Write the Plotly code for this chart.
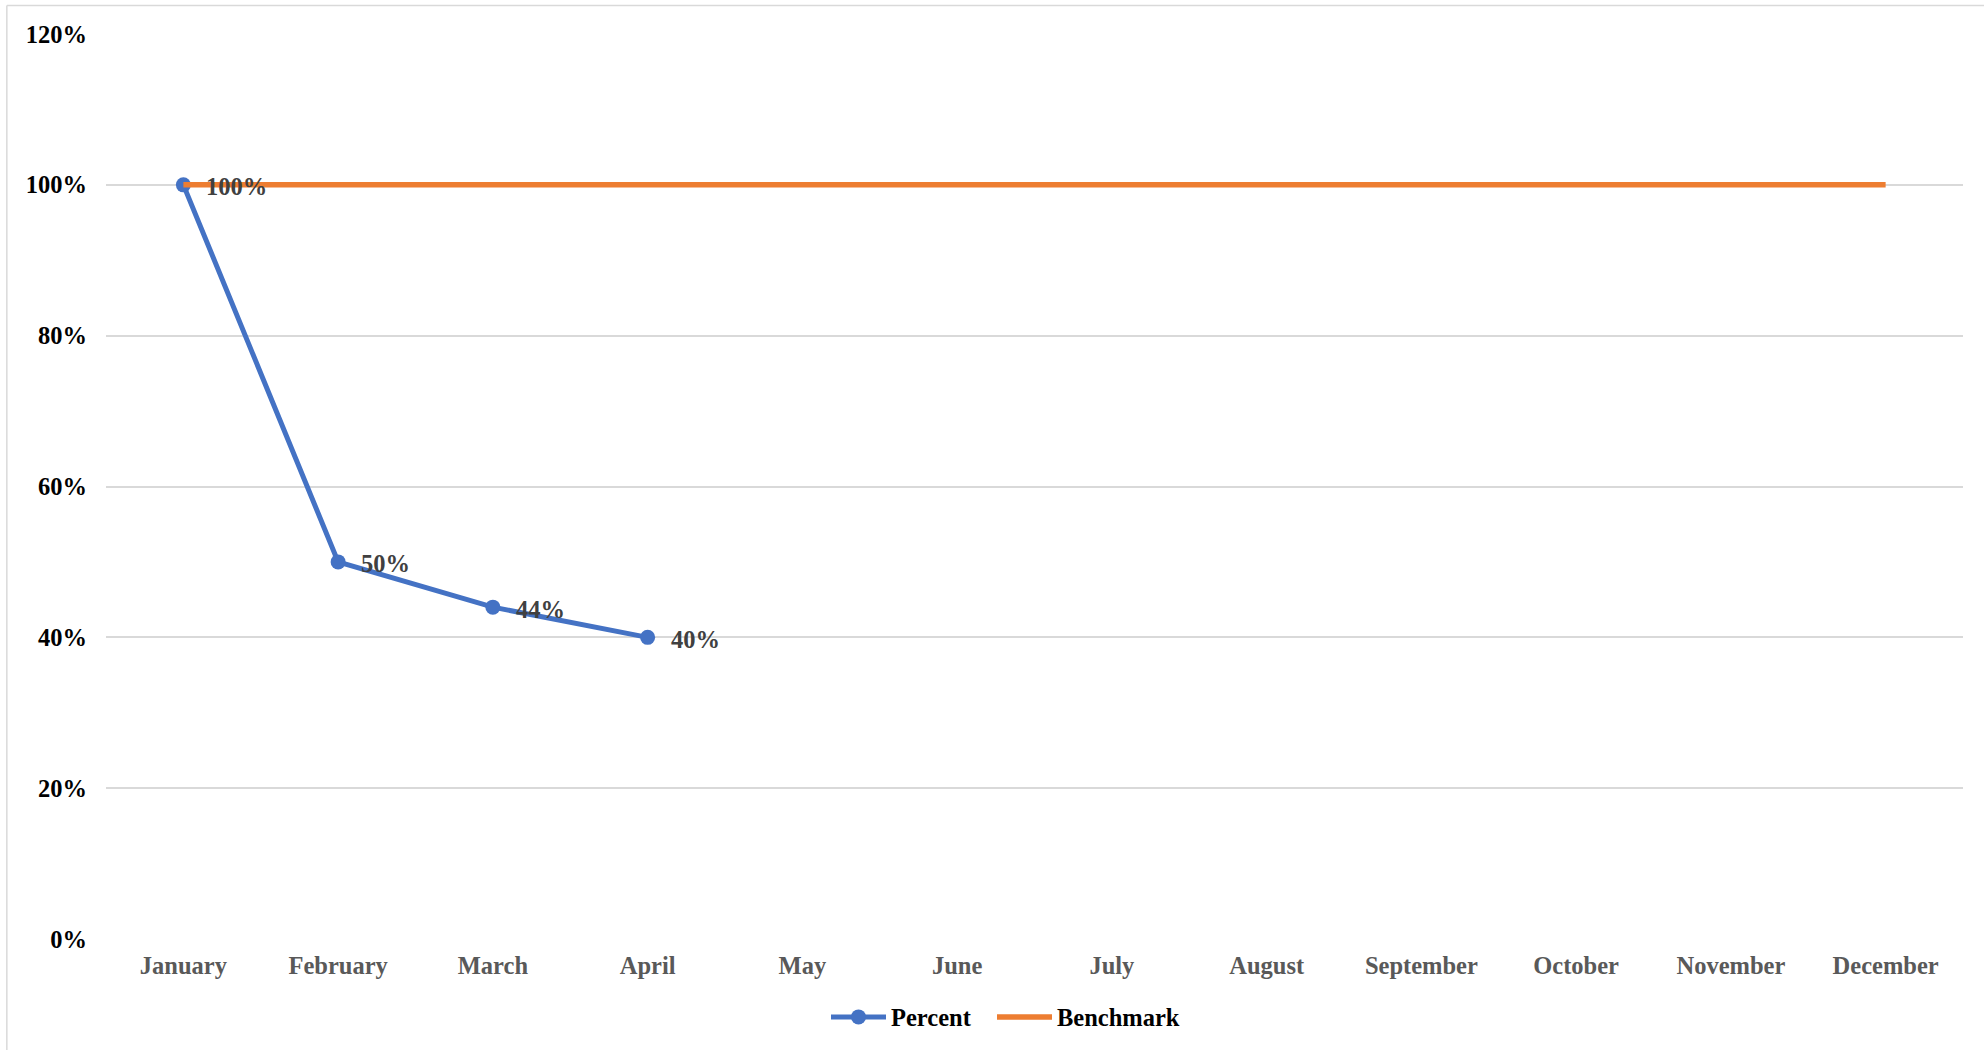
import plotly.graph_objects as go

months = ["January", "February", "March", "April", "May", "June", "July",
          "August", "September", "October", "November", "December"]
percent = [1.00, 0.50, 0.44, 0.40]
benchmark = [1.00] * 12
y_ticks = [0, 0.2, 0.4, 0.6, 0.8, 1.0, 1.2]
y_tick_labels = ["0%", "20%", "40%", "60%", "80%", "100%", "120%"]

BLUE = "#4472C4"
ORANGE = "#ED7D31"
FONT = "Liberation Serif"
FS = 24.5
W, H = 1984, 1050

fig = go.Figure()
fig.add_trace(go.Scatter(
    x=months[:len(percent)], y=percent, name="Percent", mode="lines+markers",
    line=dict(color=BLUE, width=5), marker=dict(color=BLUE, size=15),
    legend="legend",
))
fig.add_trace(go.Scatter(
    x=months, y=benchmark, name="Benchmark", mode="lines",
    line=dict(color=ORANGE, width=5.5), legend="legend2",
))

# value labels to the right of each Percent point
for m, v in zip(months, percent):
    fig.add_annotation(
        x=m, y=v, text=f"{v:.0%}", showarrow=False, xanchor="left",
        xshift=21, yshift=-2,
        font=dict(family=FONT, size=FS, color="#404040", weight="bold"),
    )

# thin frame around the chart area
fig.add_shape(type="line", xref="paper", yref="paper", x0=-0.0534, x1=-0.0534,
              y0=-0.2, y1=1.0315, line=dict(color="#D9D9D9", width=1.5))
fig.add_shape(type="line", xref="paper", yref="paper", x0=-0.0534, x1=1.2,
              y0=1.0315, y1=1.0315, line=dict(color="#D9D9D9", width=1.5))

legend_font = dict(family=FONT, size=FS, color="black", weight="bold")
legend_common = dict(orientation="h", xanchor="left", xref="container",
                     yref="container", y=1 - 1017 / H, yanchor="middle",
                     itemwidth=55, font=legend_font, borderwidth=0)

fig.update_layout(
    width=W, height=H,
    margin=dict(l=106, r=21, t=34, b=111),
    paper_bgcolor="white", plot_bgcolor="white",
    font=dict(family=FONT, size=FS, color="black", weight="bold"),
    showlegend=True,
    legend=dict(x=826 / W, **legend_common),
    legend2=dict(x=992 / W, **legend_common),
    xaxis=dict(
        categoryorder="array", categoryarray=months, range=[-0.5, 11.5],
        showgrid=False, showline=False, zeroline=False, ticks="",
        tickfont=dict(family=FONT, size=FS, color="#595959", weight="bold"),
        ticklabelstandoff=9,
    ),
    yaxis=dict(
        range=[0, 1.2], tickvals=y_ticks, ticktext=y_tick_labels,
        showgrid=True, gridcolor="#D9D9D9", gridwidth=1.5,
        zeroline=False, showline=False, ticks="",
        tickfont=dict(family=FONT, size=FS, color="black", weight="bold"),
        ticklabelstandoff=18,
    ),
)

fig.write_html("out.html")
